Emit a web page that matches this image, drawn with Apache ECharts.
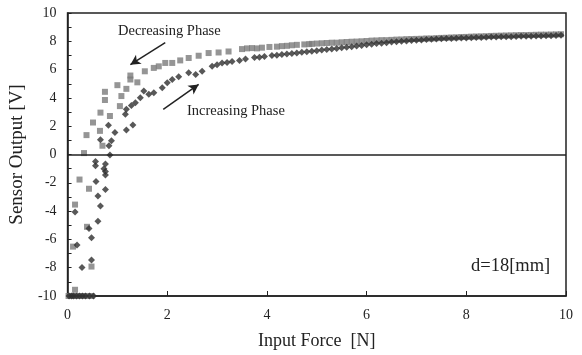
<!DOCTYPE html>
<html>
<head>
<meta charset="utf-8">
<script src="https://cdn.jsdelivr.net/npm/echarts@6/dist/echarts.min.js"></script>
<style>
  html, body { margin: 0; padding: 0; background: #fff; }
  #chart { width: 582px; height: 355px; }
</style>
</head>
<body>
<div id="chart"></div>
<script>
// decreasing phase (squares) [force N, output V]
const decreasingPhase = [
  [0.02, -10], [0.06, -10], [0.1, -10], [0.14, -10], [0.2, -10], [0.26, -10], [0.32, -10], [0.4, -10], [0.48, -10],
  [0.15, -9.56], [0.48, -7.92], [0.11, -6.51], [0.39, -5.11], [0.15, -3.54], [0.43, -2.42], [0.24, -1.77],
  [0.33, 0.1], [0.38, 1.37], [0.65, 1.67], [0.51, 2.26], [0.7, 0.62], [0.85, 2.72], [0.66, 2.96],
  [0.75, 3.85], [0.75, 4.43], [1.05, 3.42], [1.08, 4.13], [1.0, 4.9], [1.18, 4.64], [1.26, 5.3],
  [1.26, 5.58], [1.4, 5.1], [1.55, 5.88], [1.73, 6.12], [1.83, 6.23], [1.96, 6.47], [2.1, 6.47],
  [2.26, 6.65], [2.43, 6.82], [2.63, 6.98], [2.83, 7.17], [3.03, 7.21], [3.23, 7.28], [3.5, 7.45],
  [3.6, 7.5], [3.7, 7.52], [3.8, 7.5], [3.9, 7.55], [4.05, 7.6], [4.2, 7.62], [4.3, 7.66], [4.4, 7.68],
  [4.5, 7.72], [4.6, 7.75], [4.75, 7.78], [4.85, 7.8], [4.9, 7.82], [5.0, 7.84], [5.1, 7.86], [5.2, 7.88],
  [5.3, 7.9], [5.4, 7.9], [5.5, 7.93], [5.6, 7.95], [5.7, 7.97], [5.8, 7.98], [5.9, 8.0], [6.0, 8.02],
  [6.1, 8.05], [6.2, 8.06], [6.3, 8.08], [6.4, 8.08], [6.5, 8.1], [6.6, 8.12], [6.7, 8.13], [6.8, 8.15],
  [6.9, 8.16], [7.0, 8.17], [7.1, 8.18], [7.2, 8.2], [7.3, 8.2], [7.4, 8.22], [7.5, 8.24], [7.6, 8.25],
  [7.7, 8.27], [7.8, 8.28], [7.9, 8.3], [8.0, 8.31], [8.1, 8.33], [8.2, 8.34], [8.3, 8.35], [8.4, 8.36],
  [8.5, 8.38], [8.6, 8.39], [8.7, 8.4], [8.8, 8.41], [8.9, 8.42], [9.0, 8.43], [9.1, 8.44], [9.2, 8.44],
  [9.3, 8.45], [9.4, 8.46], [9.5, 8.47], [9.6, 8.47], [9.7, 8.48], [9.8, 8.49], [9.9, 8.5]
]

// increasing phase (diamonds)
const increasingPhase = [
  [0.03, -10], [0.08, -10], [0.12, -10], [0.18, -10], [0.24, -10], [0.3, -10], [0.36, -10], [0.44, -10], [0.52, -10],
  [0.29, -7.99], [0.48, -7.45], [0.19, -6.4], [0.48, -5.88], [0.43, -5.23], [0.61, -4.72], [0.15, -4.06],
  [0.66, -3.64], [0.61, -2.93], [0.76, -2.47], [0.57, -1.91], [0.76, -1.44], [0.76, -1.2],
  [0.73, -1.0], [0.56, -0.5], [0.56, -0.8], [0.76, -0.67],
  [0.85, -0.03], [0.83, 0.62], [0.88, 0.97], [0.66, 1.04], [0.95, 1.56], [0.82, 2.07], [1.18, 1.74],
  [1.31, 2.09], [1.16, 2.84], [1.18, 3.19], [1.28, 3.47], [1.36, 3.66], [1.46, 4.01], [1.53, 4.48],
  [1.63, 4.25], [1.73, 4.36], [1.9, 4.72], [2.0, 5.07], [2.1, 5.3], [2.23, 5.49], [2.43, 5.77],
  [2.57, 5.65], [2.7, 5.88], [2.9, 6.23], [3.0, 6.35], [3.1, 6.47], [3.2, 6.5], [3.3, 6.58], [3.45, 6.65],
  [3.57, 6.75], [3.75, 6.85], [3.85, 6.88], [3.95, 6.93], [4.1, 7.0], [4.2, 7.02], [4.3, 7.06], [4.4, 7.1],
  [4.5, 7.13], [4.6, 7.18], [4.7, 7.22], [4.8, 7.26], [4.9, 7.3], [5.0, 7.34], [5.1, 7.38], [5.2, 7.42],
  [5.3, 7.45], [5.4, 7.5], [5.5, 7.55], [5.6, 7.58], [5.7, 7.62], [5.8, 7.66], [5.9, 7.7], [6.0, 7.75],
  [6.1, 7.8], [6.2, 7.84], [6.3, 7.87], [6.4, 7.9], [6.5, 7.95], [6.6, 7.97], [6.7, 8.0], [6.8, 8.03],
  [6.9, 8.05], [7.0, 8.08], [7.1, 8.1], [7.2, 8.12], [7.3, 8.14], [7.4, 8.16], [7.5, 8.18], [7.6, 8.19],
  [7.7, 8.2], [7.8, 8.22], [7.9, 8.23], [8.0, 8.24], [8.1, 8.25], [8.2, 8.26], [8.3, 8.27], [8.4, 8.29],
  [8.5, 8.3], [8.6, 8.31], [8.7, 8.32], [8.8, 8.32], [8.9, 8.33], [9.0, 8.34], [9.1, 8.35], [9.2, 8.35],
  [9.3, 8.36], [9.4, 8.37], [9.5, 8.38], [9.6, 8.39], [9.7, 8.4], [9.8, 8.41], [9.9, 8.42]
]

// annotation arrows, [from, to] in data coords
const decreasingArrow = [[1.96, 7.9], [1.26, 6.35]]
const increasingArrow = [[1.92, 3.19], [2.63, 4.95]]

const serif = '"Liberation Serif", "DejaVu Serif", serif'
const ink = '#222'

const chart = echarts.init(document.getElementById('chart'))

const option = {
  animation: false,
  textStyle: { fontFamily: serif },
  grid: {
    left: 67,
    right: 16,
    top: 13,
    bottom: 57,
    show: true,
    borderColor: ink,
    borderWidth: 1.5
  },
  xAxis: {
    type: 'value',
    min: 0,
    max: 10,
    interval: 2,
    name: 'Input Force  [N]',
    nameLocation: 'middle',
    nameGap: 36,
    nameTextStyle: { fontFamily: serif, fontSize: 18, color: ink },
    axisLine: { onZero: false, lineStyle: { color: ink, width: 1.5 } },
    axisTick: { inside: true, length: 5, lineStyle: { color: ink } },
    axisLabel: { fontFamily: serif, fontSize: 14, color: ink, margin: 12 },
    splitLine: { show: false }
  },
  yAxis: {
    type: 'value',
    min: -10,
    max: 10,
    interval: 2,
    name: 'Sensor Output [V]',
    nameLocation: 'middle',
    nameGap: 31,
    nameTextStyle: { fontFamily: serif, fontSize: 19, color: ink },
    axisLine: { lineStyle: { color: ink, width: 1.5 } },
    axisTick: { inside: true, length: 4, lineStyle: { color: ink } },
    minorTick: { show: true, splitNumber: 2, length: 4, lineStyle: { color: ink } },
    axisLabel: { fontFamily: serif, fontSize: 14, color: ink, margin: 11 },
    splitLine: { show: false }
  },
  graphic: [
    {
      type: 'text',
      left: 118,
      top: 24,
      style: { text: 'Decreasing Phase', font: '14.5px ' + serif, fill: ink }
    },
    {
      type: 'text',
      left: 187,
      top: 104,
      style: { text: 'Increasing Phase', font: '14.5px ' + serif, fill: ink }
    },
    {
      type: 'text',
      left: 471,
      top: 257,
      style: { text: 'd=18[mm]', font: '18.5px ' + serif, fill: ink }
    }
  ],
  series: [
    {
      name: 'Decreasing Phase',
      type: 'scatter',
      symbol: 'rect',
      symbolSize: 6,
      itemStyle: { color: '#7a7a7a' },
      data: decreasingPhase,
      markLine: {
        silent: true,
        symbol: ['none', 'arrow'],
        symbolSize: [8, 10],
        label: { show: false },
        lineStyle: { color: ink, width: 1.5, type: 'solid' },
        data: [
          [{ coord: decreasingArrow[0] }, { coord: decreasingArrow[1] }],
          [{ coord: increasingArrow[0] }, { coord: increasingArrow[1] }]
        ]
      }
    },
    {
      name: 'Increasing Phase',
      type: 'scatter',
      symbol: 'diamond',
      symbolSize: 7,
      itemStyle: { color: '#2e2e2e' },
      data: increasingPhase,
      markLine: {
        silent: true,
        symbol: ['none', 'none'],
        label: { show: false },
        lineStyle: { color: ink, width: 1.5, type: 'solid' },
        data: [{ yAxis: 0 }]
      }
    }
  ]
}

chart.setOption(option)
</script>
</body>
</html>
